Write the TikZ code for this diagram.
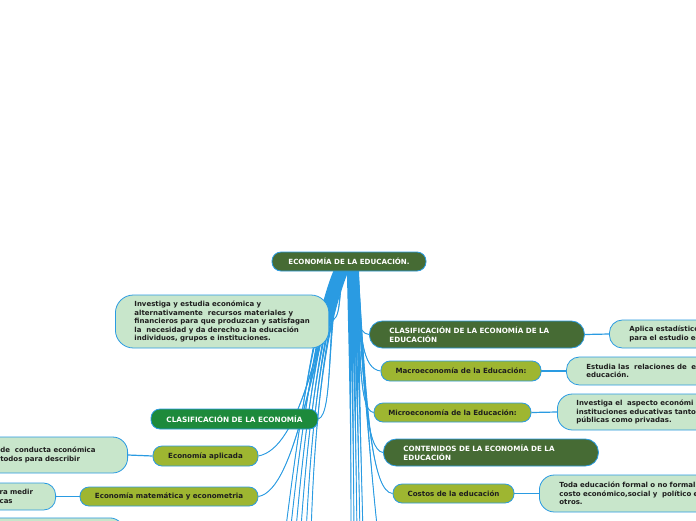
\documentclass[tikz,border=0pt]{standalone}
\usepackage{fontspec}
\setmainfont{DejaVu Sans}
\usetikzlibrary{calc,backgrounds}
\definecolor{lineblue}{HTML}{2A9BE2}
\definecolor{darkgreen}{HTML}{466B34}
\definecolor{brightgreen}{HTML}{1D8A3B}
\definecolor{olivegreen}{HTML}{9EB631}
\definecolor{paleg}{HTML}{C8E6CB}
\definecolor{txt}{HTML}{1E1E1E}
\tikzset{
 box/.style={draw=lineblue, line width=0.8pt, rounded corners=9pt, inner sep=0pt, font=\bfseries\fontsize{7.1}{8.5}\selectfont},
 dark/.style={box, fill=darkgreen, text=white},
 darktwo/.style={dark, anchor=west, align=left, text width=175pt, inner xsep=20pt, minimum height=27pt, rounded corners=13pt, font=\bfseries\fontsize{7.2}{8.5}\selectfont},
 bright/.style={box, fill=brightgreen, text=white},
 oliv/.style={box, fill=olivegreen, text=txt},
 desc/.style={box, fill=paleg, text=txt, rounded corners=15pt, align=left, font=\bfseries\fontsize{7}{8.5}\selectfont},
 hlink/.style={draw=lineblue, line width=1.2pt},
}
\newcommand\tconn[5]{%
 \fill[lineblue] ($(root.south)+(#1-#5,-3)$) .. controls ($(#2)+(-#5*0.6,0)$) and (#3) .. (#4) .. controls (#3) and ($(#2)+(#5*0.6,0)$) .. ($(root.south)+(#1+#5,-3)$) -- cycle;
 \draw[lineblue, line width=0.9pt] ($(root.south)+(#1,-3)$) .. controls (#2) and (#3) .. (#4);
}
\begin{document}
\begin{tikzpicture}[x=1pt,y=-1pt]
\useasboundingbox (0,0) rectangle (696,520);
\clip (0,0) rectangle (696,520);
% nodes
\node[dark, minimum width=154pt, minimum height=19pt] (root) at (349,261.5) {ECONOMÍA DE LA EDUCACIÓN.};
\node[desc, anchor=west, inner xsep=19pt, minimum height=53pt, rounded corners=18pt] (descL) at (115,321.5) {Investiga y estudia económica y\\alternativamente~ recursos materiales y\\financieros para que produzcan y satisfagan\\la~ necesidad y da derecho a la educación\\individuos, grupos e instituciones.};
\node[bright, minimum width=167pt, minimum height=20pt, font=\bfseries\fontsize{7.3}{8.5}\selectfont] (clasE) at (234.5,419) {CLASIFICACIÓN DE LA ECONOMÍA};
\node[oliv, minimum width=105pt, minimum height=20pt] (aplic) at (205.5,456) {Economía aplicada};
\node[desc, anchor=east, inner xsep=32pt, minimum height=36pt] (descA) at (128,455) {de~ conducta económica\\todos para describir};
\node[oliv, minimum width=178pt, minimum height=19pt] (mat) at (169,496.5) {Economía matemática y econometria};
\node[desc, anchor=east, text width=36pt, inner xsep=20pt, minimum height=27pt, rounded corners=12pt] (descM) at (56,496.5) {ra medir\\cas};
\node[desc, anchor=north east, minimum width=220pt, minimum height=40pt] (descB) at (125,517.5) {};
\node[darktwo] (clasEE) at (369,334.5) {CLASIFICACIÓN DE LA ECONOMÍA DE LA\\EDUCACIÓN};
\node[desc, anchor=west, text width=200pt, inner xsep=20pt, minimum height=28pt, rounded corners=13pt] (descC) at (609,334) {Aplica estadístico\\para el estudio ec};
\node[oliv, minimum width=160pt, minimum height=20pt] (macro) at (461,371) {Macroeconomía de la Educación:};
\node[desc, anchor=west, text width=200pt, inner xsep=20pt, minimum height=28pt, rounded corners=13pt] (descMa) at (566,371) {Estudia las~ relaciones de~ e\\educación.};
\node[oliv, minimum width=157pt, minimum height=19pt] (micro) at (452.5,412.5) {Microeconomía de la Educación:};
\node[desc, anchor=west, text width=200pt, inner xsep=19pt, minimum height=36pt] (descMi) at (557,412) {Investiga el~ aspecto económi\\instituciones educativas tanto\\públicas como privadas.};
\node[darktwo] (conten) at (383,452.5) {CONTENIDOS DE LA ECONOMÍA DE LA\\EDUCACIÓN};
\node[oliv, minimum width=121pt, minimum height=19pt] (costos) at (453.5,493.5) {Costos de la educación};
\node[desc, anchor=west, text width=200pt, inner xsep=20pt, minimum height=37pt] (descCo) at (539,493.5) {Toda educación formal o no formal\\costo económico,social y~ político e\\otros.};
% off-page ends
\coordinate (eL1) at (285,535);
\coordinate (eL2) at (290,535);
\coordinate (eL3) at (295.5,535);
\coordinate (eL4) at (300.5,535);
\coordinate (eL5) at (306,535);
\coordinate (eL6) at (311,535);
\coordinate (eR1) at (351,535);
\coordinate (eR2) at (354,535);
\coordinate (eR3) at (357,535);
\coordinate (eR4) at (360,535);
\coordinate (eR5) at (363,535);
\coordinate (eR6) at (378,535);
\begin{scope}[on background layer]
\fill[white] (0,0) rectangle (696,520);
\draw[hlink] (aplic.west) -- (descA.east);
\draw[hlink] (mat.west) -- (descM.east);
\draw[hlink] (clasEE.east) -- (descC.west);
\draw[hlink] (macro.east) -- (descMa.west);
\draw[hlink] (micro.east) -- (descMi.west);
\draw[hlink] (costos.east) -- (descCo.west);
% left bundle
\tconn{-12}{322,300}{306,365}{eL1}{2.5}
\tconn{-10}{325,300}{308,365}{eL2}{2.5}
\tconn{-8}{328,300}{310,365}{eL3}{2.5}
\tconn{-6}{331,300}{312,365}{eL4}{2.5}
\tconn{-4}{333,300}{314,365}{eL5}{2.5}
\tconn{-2}{335,300}{316,365}{eL6}{2.5}
\tconn{-6}{338,298}{342,320}{descL.east}{1.2}
\tconn{-8}{326,320}{334,414}{clasE.east}{1.5}
\tconn{-9}{318,340}{300,448}{aplic.east}{1.5}
\tconn{-9}{314,350}{296,490}{mat.east}{1.5}
% right bundle
\tconn{0}{350,350}{351,450}{eR1}{2.2}
\tconn{2}{352,350}{353.5,450}{eR2}{2.2}
\tconn{4}{354,350}{356,450}{eR3}{2.2}
\tconn{6}{356,350}{358.5,450}{eR4}{2.2}
\tconn{8}{358,350}{361,450}{eR5}{2.2}
\tconn{6}{358,315}{356,333}{clasEE.west}{1.2}
\tconn{7}{360,335}{362,369}{macro.west}{1.2}
\tconn{7}{361,360}{359,410}{micro.west}{1.3}
\tconn{8}{364,390}{366,450}{conten.west}{1.4}
\tconn{8}{366,410}{372,492}{costos.west}{1.5}
\tconn{8}{365,400}{372,480}{eR6}{1.5}
\end{scope}
\end{tikzpicture}
\end{document}
